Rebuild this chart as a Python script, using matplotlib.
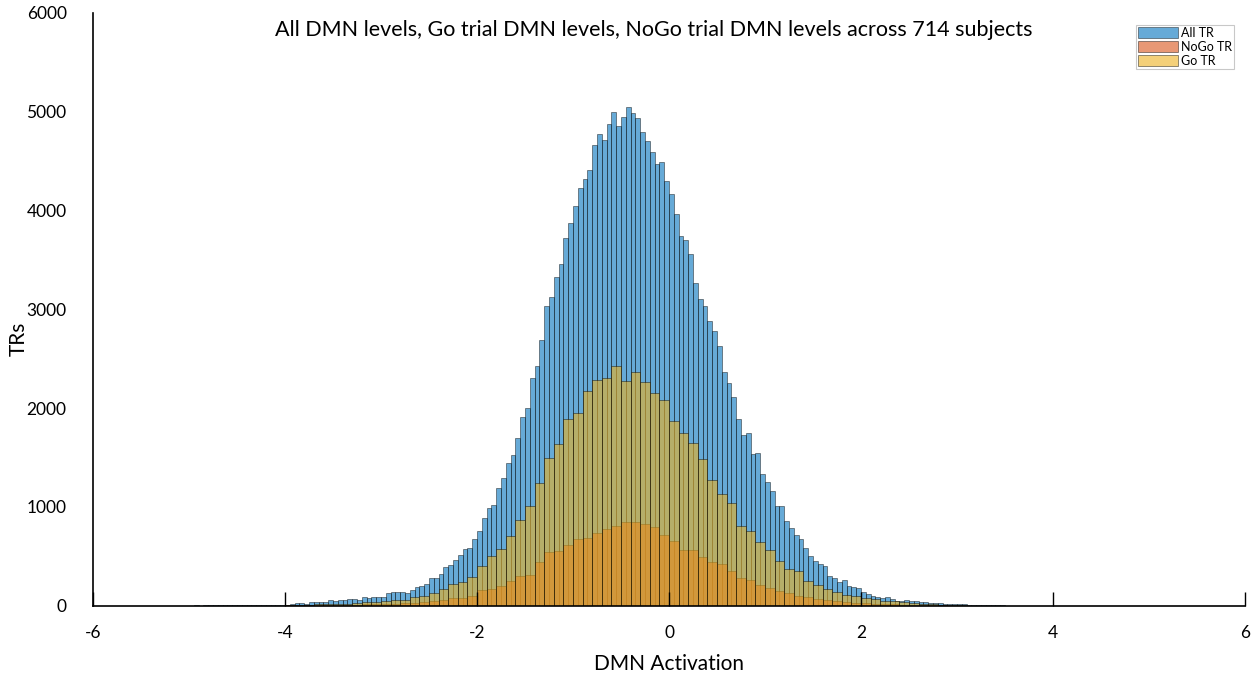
import numpy as np
import matplotlib
matplotlib.use("Agg")
import matplotlib.pyplot as plt

plt.rcParams['font.family'] = ['Lato', 'DejaVu Sans']

# Histogram counts (TRs per bin) of DMN activation
all_start, all_width = -5.0, 0.05
all_counts = [
    1, 2, 1, 3, 2, 2, 4, 3, 3, 5, 4, 6, 5, 6, 8, 7, 9, 8, 11, 12,
    10, 20, 27, 27, 17, 41, 41, 34, 34, 58, 47, 61, 54, 64, 68, 61, 88, 78, 85, 88,
    91, 125, 135, 142, 142, 129, 162, 190, 196, 217, 277, 281, 321, 390, 412, 458,
    511, 575, 585, 670, 761, 883, 985, 1015, 1191, 1293, 1442, 1523, 1699, 1905,
    2000, 2304, 2430, 2694, 3032, 3127, 3323, 3462, 3726, 3870, 4047, 4223, 4318,
    4406, 4663, 4775, 4710, 4876, 5001, 4856, 4944, 5046, 4991, 4937, 4798, 4707,
    4589, 4474, 4487, 4298, 4162, 3963, 3746, 3705, 3557, 3266, 3106, 3037, 2880,
    2778, 2626, 2362, 2254, 2115, 1888, 1729, 1743, 1540, 1550, 1330, 1255, 1164,
    1008, 1008, 856, 788, 714, 670, 585, 508, 450, 423, 406, 298, 281, 240, 257,
    203, 186, 176, 135, 115, 101, 88, 81, 88, 68, 51, 51, 58, 47, 44, 37, 34, 30,
    27, 24, 20, 20, 20, 17, 14, 12, 10, 8, 7, 6, 5, 4, 3,
]

trial_start, trial_width = -4.0, 0.1
nogo_counts = [
    3, 3, 5, 5, 7, 7, 10, 10, 14, 14, 17, 20, 24, 30, 37, 47, 61, 78, 78, 102,
    156, 169, 203, 250, 305, 315, 447, 541, 555, 613, 670, 687, 731, 778, 805,
    849, 849, 826, 795, 714, 656, 562, 562, 494, 443, 426, 349, 281, 264, 213,
    176, 152, 129, 95, 88, 68, 61, 43, 34, 27, 27, 20, 17, 14, 10, 7, 5, 3, 2, 1, 1,
]
go_counts = [
    7, 7, 10, 17, 14, 20, 20, 27, 41, 41, 47, 61, 58, 88, 102, 129, 173, 220, 240,
    291, 399, 501, 575, 704, 870, 1008, 1245, 1499, 1634, 1888, 1949, 2169, 2284,
    2308, 2426, 2270, 2362, 2264, 2152, 2081, 1865, 1743, 1651, 1482, 1272, 1127,
    1036, 805, 761, 646, 562, 450, 372, 352, 247, 206, 169, 138, 108, 101, 74, 64,
    51, 44, 34, 27, 20, 14, 10, 6, 4,
]

series_labels = ['All TR', 'NoGo TR', 'Go TR']
x_ticks = [-6, -4, -2, 0, 2, 4, 6]
y_ticks = [0, 1000, 2000, 3000, 4000, 5000, 6000]

fig = plt.figure(figsize=(12.52, 6.76), dpi=100)
ax = fig.add_axes([0.0743, 0.104, 0.9202, 0.877])

edge = (0, 0, 0, 0.38)


def draw_hist(start, width, counts, color, label):
    lefts = start + width * np.arange(len(counts))
    ax.bar(lefts, counts, width=width, align='edge', color=color, alpha=0.6,
           edgecolor=edge, linewidth=0.5, label=label)


draw_hist(all_start, all_width, all_counts, '#0072BD', series_labels[0])
draw_hist(trial_start, trial_width, nogo_counts, '#D95319', series_labels[1])
draw_hist(trial_start, trial_width, go_counts, '#EDB120', series_labels[2])

ax.set_xlim(-6, 6)
ax.set_ylim(0, 6000)
ax.set_xticks(x_ticks)
ax.set_yticks(y_ticks)
ax.set_xticklabels([f'{t}' for t in x_ticks])
ax.set_yticklabels([f'{t}' for t in y_ticks])

for s in ['top', 'right']:
    ax.spines[s].set_visible(False)
for s in ['left', 'bottom']:
    ax.spines[s].set_linewidth(1.2)
    ax.spines[s].set_color('black')

ax.tick_params(axis='x', direction='in', length=10, width=1.0, pad=14,
               labelsize=12.5)
ax.tick_params(axis='y', direction='in', length=0, pad=19, labelsize=12.5)

ax.set_xlabel('DMN Activation', fontsize=15, labelpad=9)
ax.set_ylabel('TRs', fontsize=15)
ax.yaxis.set_label_coords(-0.0555, 0.45)

fig.text(654 / 1252, 1 - 30 / 676, 'All DMN levels, Go trial DMN levels, NoGo trial DMN levels across 714 subjects',
         ha='center', va='center', fontsize=15.5)

leg = ax.legend(loc='upper right', bbox_to_anchor=(1234 / 1252, 1 - 25 / 676),
                bbox_transform=fig.transFigure, fontsize=9, frameon=True,
                fancybox=False, handlelength=3.2, handleheight=1.0,
                handletextpad=0.25, labelspacing=0.15, borderpad=0.15,
                borderaxespad=0)
leg.get_frame().set_edgecolor('#bbbbbb')
leg.get_frame().set_linewidth(0.8)

fig.savefig('out.png', dpi=100)
